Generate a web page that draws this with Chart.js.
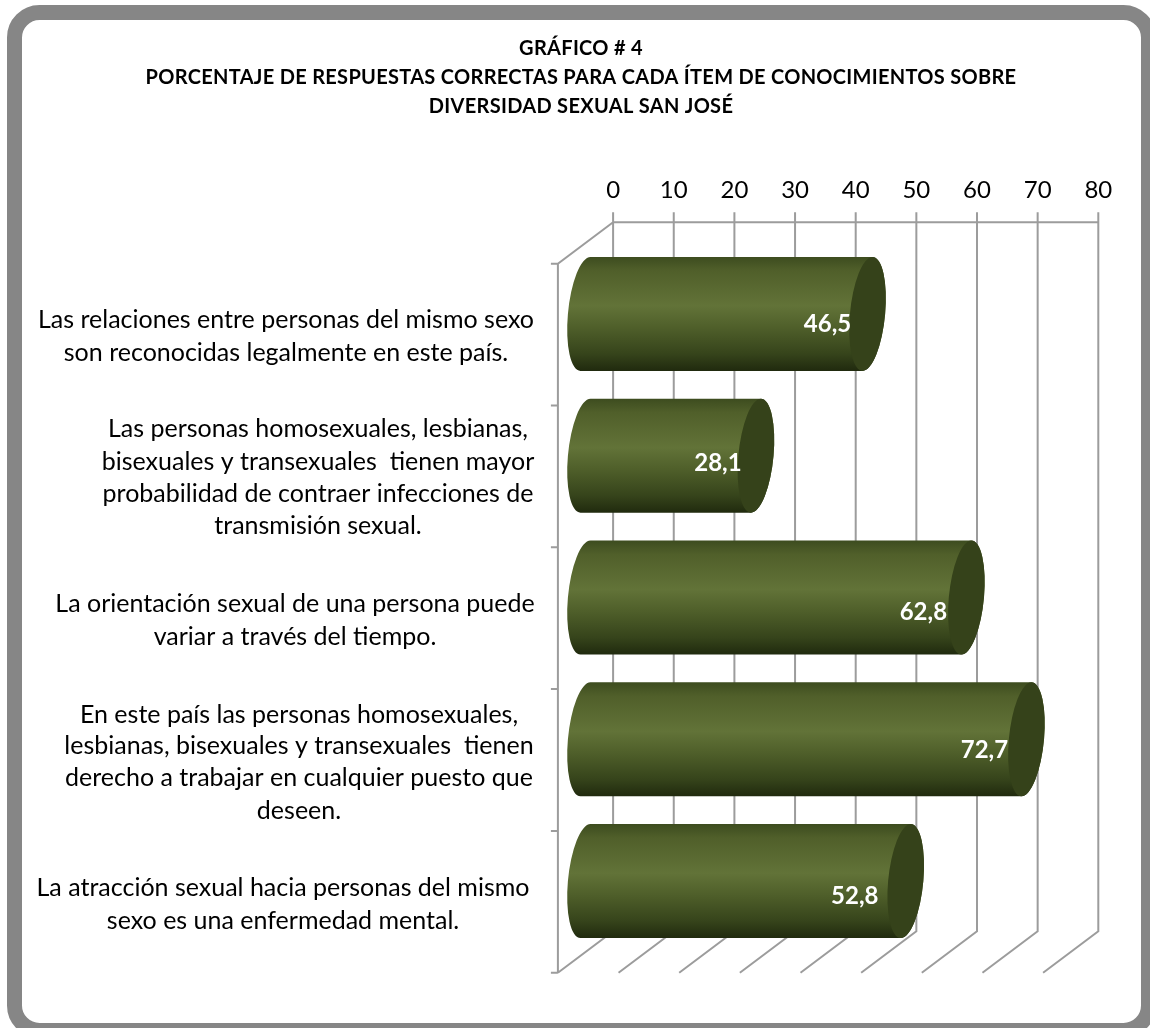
<!DOCTYPE html>
<html>
<head>
<meta charset="utf-8">
<script src="https://cdn.jsdelivr.net/npm/chart.js@4/dist/chart.umd.min.js"></script>
<style>
    html, body { margin: 0; padding: 0; background: #fff; }
    canvas { display: block; }
</style>
</head>
<body>
<canvas id="grafico" width="1150" height="1028"></canvas>
<script>
const tituloLineas = [
    'GRÁFICO # 4',
    'PORCENTAJE DE RESPUESTAS CORRECTAS PARA CADA ÍTEM DE CONOCIMIENTOS SOBRE',
    'DIVERSIDAD SEXUAL SAN JOSÉ'
];

const categorias = [
    ['Las relaciones entre personas del mismo sexo', 'son reconocidas legalmente en este país.'],
    ['Las personas homosexuales, lesbianas,', 'bisexuales y transexuales  tienen mayor', 'probabilidad de contraer infecciones de', 'transmisión sexual.'],
    ['La orientación sexual de una persona puede', 'variar a través del tiempo.'],
    ['En este país las personas homosexuales,', 'lesbianas, bisexuales y transexuales  tienen', 'derecho a trabajar en cualquier puesto que', 'deseen.'],
    ['La atracción sexual hacia personas del mismo', 'sexo es una enfermedad mental.']
];

const porcentajes = [46.5, 28.1, 62.8, 72.7, 52.8];

const ticksEje = [0, 10, 20, 30, 40, 50, 60, 70, 80];

// profundidad del efecto 3D: pared del fondo y plano frontal respecto al plano de las barras
const prof = { dx: 27.6, dy: 20.7 };
const GRIS = '#9c9c9c';
const FUENTE = 'Lato';

// centro x de cada bloque de etiqueta y baseline de sus lineas
const centroEtiquetas = [286, 318, 295, 299, 283];
const baseEtiquetas = [
    [328, 361],
    [437, 470, 502, 534],
    [612, 645],
    [723, 754, 786, 819],
    [896, 929]
];
const ajusteValor = [[-40, 10], [-38, 8], [-43, 15], [-42, 11], [-51, 15]];

function textoAjustado(ctx, txt, x, y, espacio) {
    ctx.letterSpacing = espacio + 'px';
    ctx.fillText(txt, x, y);
    ctx.letterSpacing = '0px';
}

const pluginMarco = {
    id: 'marco',
    beforeDraw(chart) {
        const ctx = chart.ctx;
        ctx.save();
        ctx.strokeStyle = '#868686';
        ctx.lineWidth = 15;
        ctx.beginPath();
        ctx.roundRect(14.5, 12.5, 1134, 1018, 25);
        ctx.stroke();

        ctx.fillStyle = '#000';
        ctx.textAlign = 'center';
        ctx.textBaseline = 'alphabetic';
        ctx.font = 'bold 20px ' + FUENTE;
        const yTitulo = [55, 84, 113];
        tituloLineas.forEach((t, i) => textoAjustado(ctx, t, 581, yTitulo[i], 0.3));
        ctx.restore();
    }
};

const pluginGrid3d = {
    id: 'grid3d',
    beforeDatasetsDraw(chart) {
        const ctx = chart.ctx;
        const x = chart.scales.x;
        const area = chart.chartArea;
        const arriba = area.top - prof.dy;
        const abajo = area.bottom - prof.dy;
        const frenteArriba = area.top + prof.dy;
        const frenteAbajo = area.bottom + prof.dy;

        ctx.save();
        ctx.strokeStyle = GRIS;
        ctx.lineWidth = 2;
        ctx.beginPath();
        ticksEje.forEach(v => {
            const px = x.getPixelForValue(v);
            ctx.moveTo(px + prof.dx, arriba - 10);
            ctx.lineTo(px + prof.dx, abajo);
            ctx.lineTo(px - prof.dx, frenteAbajo);
        });
        ctx.moveTo(x.getPixelForValue(0) + prof.dx, arriba);
        ctx.lineTo(x.getPixelForValue(80) + prof.dx, arriba);

        const x0 = x.getPixelForValue(0) - prof.dx;
        ctx.moveTo(x0 + 2 * prof.dx, arriba);
        ctx.lineTo(x0, frenteArriba);
        ctx.lineTo(x0, frenteAbajo);
        const paso = (area.bottom - area.top) / categorias.length;
        for (let i = 0; i <= categorias.length; i++) {
            ctx.moveTo(x0 - 7, frenteArriba + i * paso);
            ctx.lineTo(x0, frenteArriba + i * paso);
        }
        ctx.stroke();
        ctx.restore();
    }
};

function mediaElipse(ctx, cx, cy, rx, ry, inicio, fin) {
    ctx.save();
    ctx.transform(1, 0, -0.088, 1, cx, cy);
    ctx.ellipse(0, 0, rx, ry, 0, inicio, fin);
    ctx.restore();
}

const pluginCilindros = {
    id: 'cilindros',
    afterDatasetsDraw(chart) {
        const ctx = chart.ctx;
        const meta = chart.getDatasetMeta(0);
        const base = chart.scales.x.getPixelForValue(0);
        const rx = 17.6;

        ctx.save();
        meta.data.forEach((barra) => {
            const ry = barra.height / 2;
            const grad = ctx.createLinearGradient(0, barra.y - ry, 0, barra.y + ry);
            grad.addColorStop(0, '#3d4c1f');
            grad.addColorStop(0.12, '#505f2a');
            grad.addColorStop(0.43, '#627338');
            grad.addColorStop(0.62, '#4f5f2a');
            grad.addColorStop(0.85, '#36441b');
            grad.addColorStop(1, '#202a0e');

            ctx.beginPath();
            mediaElipse(ctx, barra.x, barra.y, rx, ry, -Math.PI / 2, Math.PI / 2);
            mediaElipse(ctx, base, barra.y, rx, ry, Math.PI / 2, Math.PI * 1.5);
            ctx.closePath();
            ctx.fillStyle = grad;
            ctx.fill();

            ctx.beginPath();
            mediaElipse(ctx, barra.x, barra.y, rx, ry, 0, Math.PI * 2);
            ctx.fillStyle = '#35421a';
            ctx.fill();
        });

        ctx.fillStyle = '#fff';
        ctx.textAlign = 'center';
        ctx.textBaseline = 'middle';
        ctx.font = 'bold 24px ' + FUENTE;
        meta.data.forEach((barra, i) => {
            const txt = porcentajes[i].toFixed(1).replace('.', ',');
            ctx.fillText(txt, barra.x + ajusteValor[i][0], barra.y + ajusteValor[i][1]);
        });

        ctx.fillStyle = '#000';
        ctx.textBaseline = 'alphabetic';
        ctx.font = '25px ' + FUENTE;
        categorias.forEach((lineas, i) => {
            lineas.forEach((t, j) => {
                ctx.fillText(t, centroEtiquetas[i], baseEtiquetas[i][j]);
            });
        });
        ctx.restore();
    }
};

function initChart() {
    new Chart(document.getElementById('grafico'), {
        type: 'bar',
        data: {
            labels: categorias,
            datasets: [{
                label: 'Porcentaje de respuestas correctas',
                data: porcentajes,
                backgroundColor: 'rgba(0, 0, 0, 0)',
                barPercentage: 0.804,
                categoryPercentage: 1
            }]
        },
        options: {
            indexAxis: 'y',
            responsive: false,
            animation: false,
            layout: {
                padding: { left: 585.5, right: 79.3, top: 163, bottom: 76 }
            },
            plugins: {
                legend: { display: false },
                title: { display: false },
                tooltip: { enabled: false }
            },
            scales: {
                x: {
                    type: 'linear',
                    position: 'top',
                    min: 0,
                    max: 80,
                    afterFit(scale) { scale.height = 80; },
                    afterBuildTicks(scale) { scale.ticks = ticksEje.map(v => ({ value: v })); },
                    grid: { display: false, drawTicks: false },
                    border: { display: false },
                    ticks: {
                        color: '#000',
                        padding: 38,
                        labelOffset: 27.6,
                        maxRotation: 0,
                        autoSkip: false,
                        font: { family: FUENTE, size: 24 }
                    }
                },
                y: {
                    afterFit(scale) { scale.width = 0; },
                    grid: { display: false, drawTicks: false },
                    border: { display: false },
                    ticks: { display: false }
                }
            }
        },
        plugins: [pluginMarco, pluginGrid3d, pluginCilindros]
    });
}

document.addEventListener('DOMContentLoaded', initChart);
</script>
</body>
</html>
